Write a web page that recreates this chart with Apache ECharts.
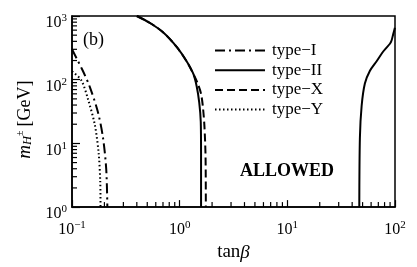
<!DOCTYPE html>
<html>
<head>
<meta charset="utf-8">
<script src="https://cdn.jsdelivr.net/npm/echarts@6/dist/echarts.min.js"></script>
<style>html,body{margin:0;padding:0;background:#fff;}#c{width:417px;height:267px;}</style>
</head>
<body>
<div id="c"></div>
<script>
// ---- data ----
const typeI_x = [0.1, 0.126, 0.146, 0.174, 0.194, 0.208, 0.213];
const typeI_y = [300, 138, 78, 31, 12.3, 3.9, 1];

const typeII_left_x = [0.40, 0.53, 0.705, 0.938, 1.16, 1.34, 1.44, 1.52, 1.57, 1.58, 1.58];
const typeII_left_y = [1000, 776, 550, 327, 195, 123, 78, 43.7, 21.9, 6.9, 1];

const typeII_right_x = [46.6, 47.2, 49, 52.5, 58.5, 67.5, 77.7, 89.7, 92.9, 96.2, 99.8];
const typeII_right_y = [1, 12.3, 39, 87, 138, 195, 277, 367, 412, 519, 653];

const typeX_x = [0.40, 0.53, 0.705, 0.938, 1.16, 1.34, 1.46, 1.58, 1.65, 1.70, 1.74, 1.75];
const typeX_y = [1000, 776, 550, 327, 195, 123, 90, 60, 35, 18, 6, 1];

const typeY_x = [0.1, 0.122, 0.141, 0.163, 0.177, 0.183, 0.184];
const typeY_y = [135, 98, 49, 19.5, 6.9, 2.5, 1];

const seriesNames = ['type\u2212I', 'type\u2212II', 'type\u2212X', 'type\u2212Y'];

const xMinorTicks = [0.2,0.3,0.4,0.5,0.6,0.7,0.8,0.9,2,3,4,5,6,7,8,9,20,30,40,50,60,70,80,90];
const yMinorTicks = [2,3,4,5,6,7,8,9,20,30,40,50,60,70,80,90,200,300,400,500,600,700,800,900];

const xRange = [0.1, 100];
const yRange = [1, 1000];

// ---- chart ----
const FONT = '"Liberation Serif", "DejaVu Serif", serif';
const zip = (xs, ys) => xs.map((x, i) => [x, ys[i]]);
const expLabel = v => {
  const e = Math.round(Math.log10(v));
  return '{b|10}{s|' + (e < 0 ? '\u2212' + (-e) : e) + '}';
};
const labelRich = {
  b: { fontSize: 16, fontFamily: FONT, color: '#000', lineHeight: 18, verticalAlign: 'bottom' },
  s: { fontSize: 11, fontFamily: FONT, color: '#000', lineHeight: 11, verticalAlign: 'top' }
};

const lineBase = { type: 'line', symbol: 'none', showSymbol: false, smooth: 0.3, z: 3 };

const chart = echarts.init(document.getElementById('c'), null, { renderer: 'canvas' });
chart.setOption({
  animation: false,
  backgroundColor: '#fff',
  grid: { left: 72, right: 22, top: 16, bottom: 50, show: true, borderColor: '#000', borderWidth: 1.5, backgroundColor: 'transparent' },
  xAxis: {
    type: 'log', logBase: 10, min: xRange[0], max: xRange[1],
    axisLine: { show: true, lineStyle: { color: '#000', width: 1.5 } },
    axisTick: { show: true, inside: true, length: 7, lineStyle: { color: '#000', width: 1.2 } },
    splitLine: { show: false },
    axisLabel: { formatter: expLabel, rich: labelRich, margin: 13 },
    name: '{n|tan}{g|\u03b2}', nameLocation: 'middle', nameGap: 33,
    nameTextStyle: { rich: {
      n: { fontSize: 19, fontFamily: FONT, color: '#000' },
      g: { fontSize: 19, fontFamily: FONT, fontStyle: 'italic', color: '#000' }
    } }
  },
  yAxis: {
    type: 'log', logBase: 10, min: yRange[0], max: yRange[1],
    axisLine: { show: true, lineStyle: { color: '#000', width: 1.5 } },
    axisTick: { show: true, inside: true, length: 8, lineStyle: { color: '#000', width: 1.2 } },
    splitLine: { show: false },
    axisLabel: { formatter: expLabel, rich: labelRich, margin: 5, padding: [12, 0, 0, 0] },
    name: '{m|m}{h|H}{p|\u00b1}{n|[GeV]}', nameLocation: 'middle', nameGap: 33, nameRotate: 90,
    nameTextStyle: { padding: [0, 16, 0, 0], rich: {
      m: { fontSize: 19, fontFamily: FONT, fontStyle: 'italic', color: '#000', lineHeight: 22, verticalAlign: 'bottom' },
      h: { fontSize: 12.5, fontFamily: FONT, fontStyle: 'italic', color: '#000', lineHeight: 14, verticalAlign: 'bottom' },
      p: { fontSize: 10, fontFamily: FONT, color: '#000', lineHeight: 10, verticalAlign: 'top', padding: [3, 4, 0, 0] },
      n: { fontSize: 18, fontFamily: FONT, color: '#000', lineHeight: 22, verticalAlign: 'bottom' }
    } }
  },
  legend: {
    left: 209, top: 37, orient: 'vertical', itemWidth: 50, itemHeight: 14, itemGap: 2.7,
    data: seriesNames,
    itemStyle: { opacity: 0 },
    textStyle: { fontSize: 17, lineHeight: 14, fontFamily: FONT, color: '#000', padding: [0, 0, 0, 2] }
  },
  graphic: [
    { type: 'text', left: 83, top: 31, style: { text: '(b)', font: '18px "Liberation Serif"', fill: '#000' } },
    { type: 'text', left: 240, top: 162, style: { text: 'ALLOWED', font: 'bold 18px "Liberation Serif"', fill: '#000' } }
  ],
  series: [
    Object.assign({}, lineBase, { name: seriesNames[0], data: zip(typeI_x, typeI_y),
      lineStyle: { color: '#000', width: 2, type: [10, 4, 2, 4] }, itemStyle: { color: '#000', opacity: 0 } }),
    Object.assign({}, lineBase, { name: seriesNames[1], data: zip(typeII_left_x, typeII_left_y),
      lineStyle: { color: '#000', width: 2, type: 'solid' }, itemStyle: { color: '#000', opacity: 0 } }),
    Object.assign({}, lineBase, { name: seriesNames[1], data: zip(typeII_right_x, typeII_right_y),
      lineStyle: { color: '#000', width: 2, type: 'solid' }, itemStyle: { color: '#000', opacity: 0 } }),
    Object.assign({}, lineBase, { name: seriesNames[2], data: zip(typeX_x, typeX_y),
      lineStyle: { color: '#000', width: 2, type: [8, 4] }, itemStyle: { color: '#000', opacity: 0 } }),
    Object.assign({}, lineBase, { name: seriesNames[3], data: zip(typeY_x, typeY_y),
      lineStyle: { color: '#000', width: 2, type: [1.5, 2.5] }, itemStyle: { color: '#000', opacity: 0 } }),
    {
      type: 'custom', name: 'xminor', silent: true, clip: false, z: 4,
      data: xMinorTicks.map(v => [v, yRange[0]]),
      renderItem: (params, api) => {
        const p = api.coord([api.value(0), api.value(1)]);
        return { type: 'line', shape: { x1: p[0], y1: p[1], x2: p[0], y2: p[1] - 5 }, style: { stroke: '#000', lineWidth: 1.2 } };
      }
    },
    {
      type: 'custom', name: 'yminor', silent: true, clip: false, z: 4,
      data: yMinorTicks.map(v => [xRange[0], v]),
      renderItem: (params, api) => {
        const p = api.coord([api.value(0), api.value(1)]);
        return { type: 'line', shape: { x1: p[0], y1: p[1], x2: p[0] + 5, y2: p[1] }, style: { stroke: '#000', lineWidth: 1.2 } };
      }
    }
  ]
});
</script>
</body>
</html>
